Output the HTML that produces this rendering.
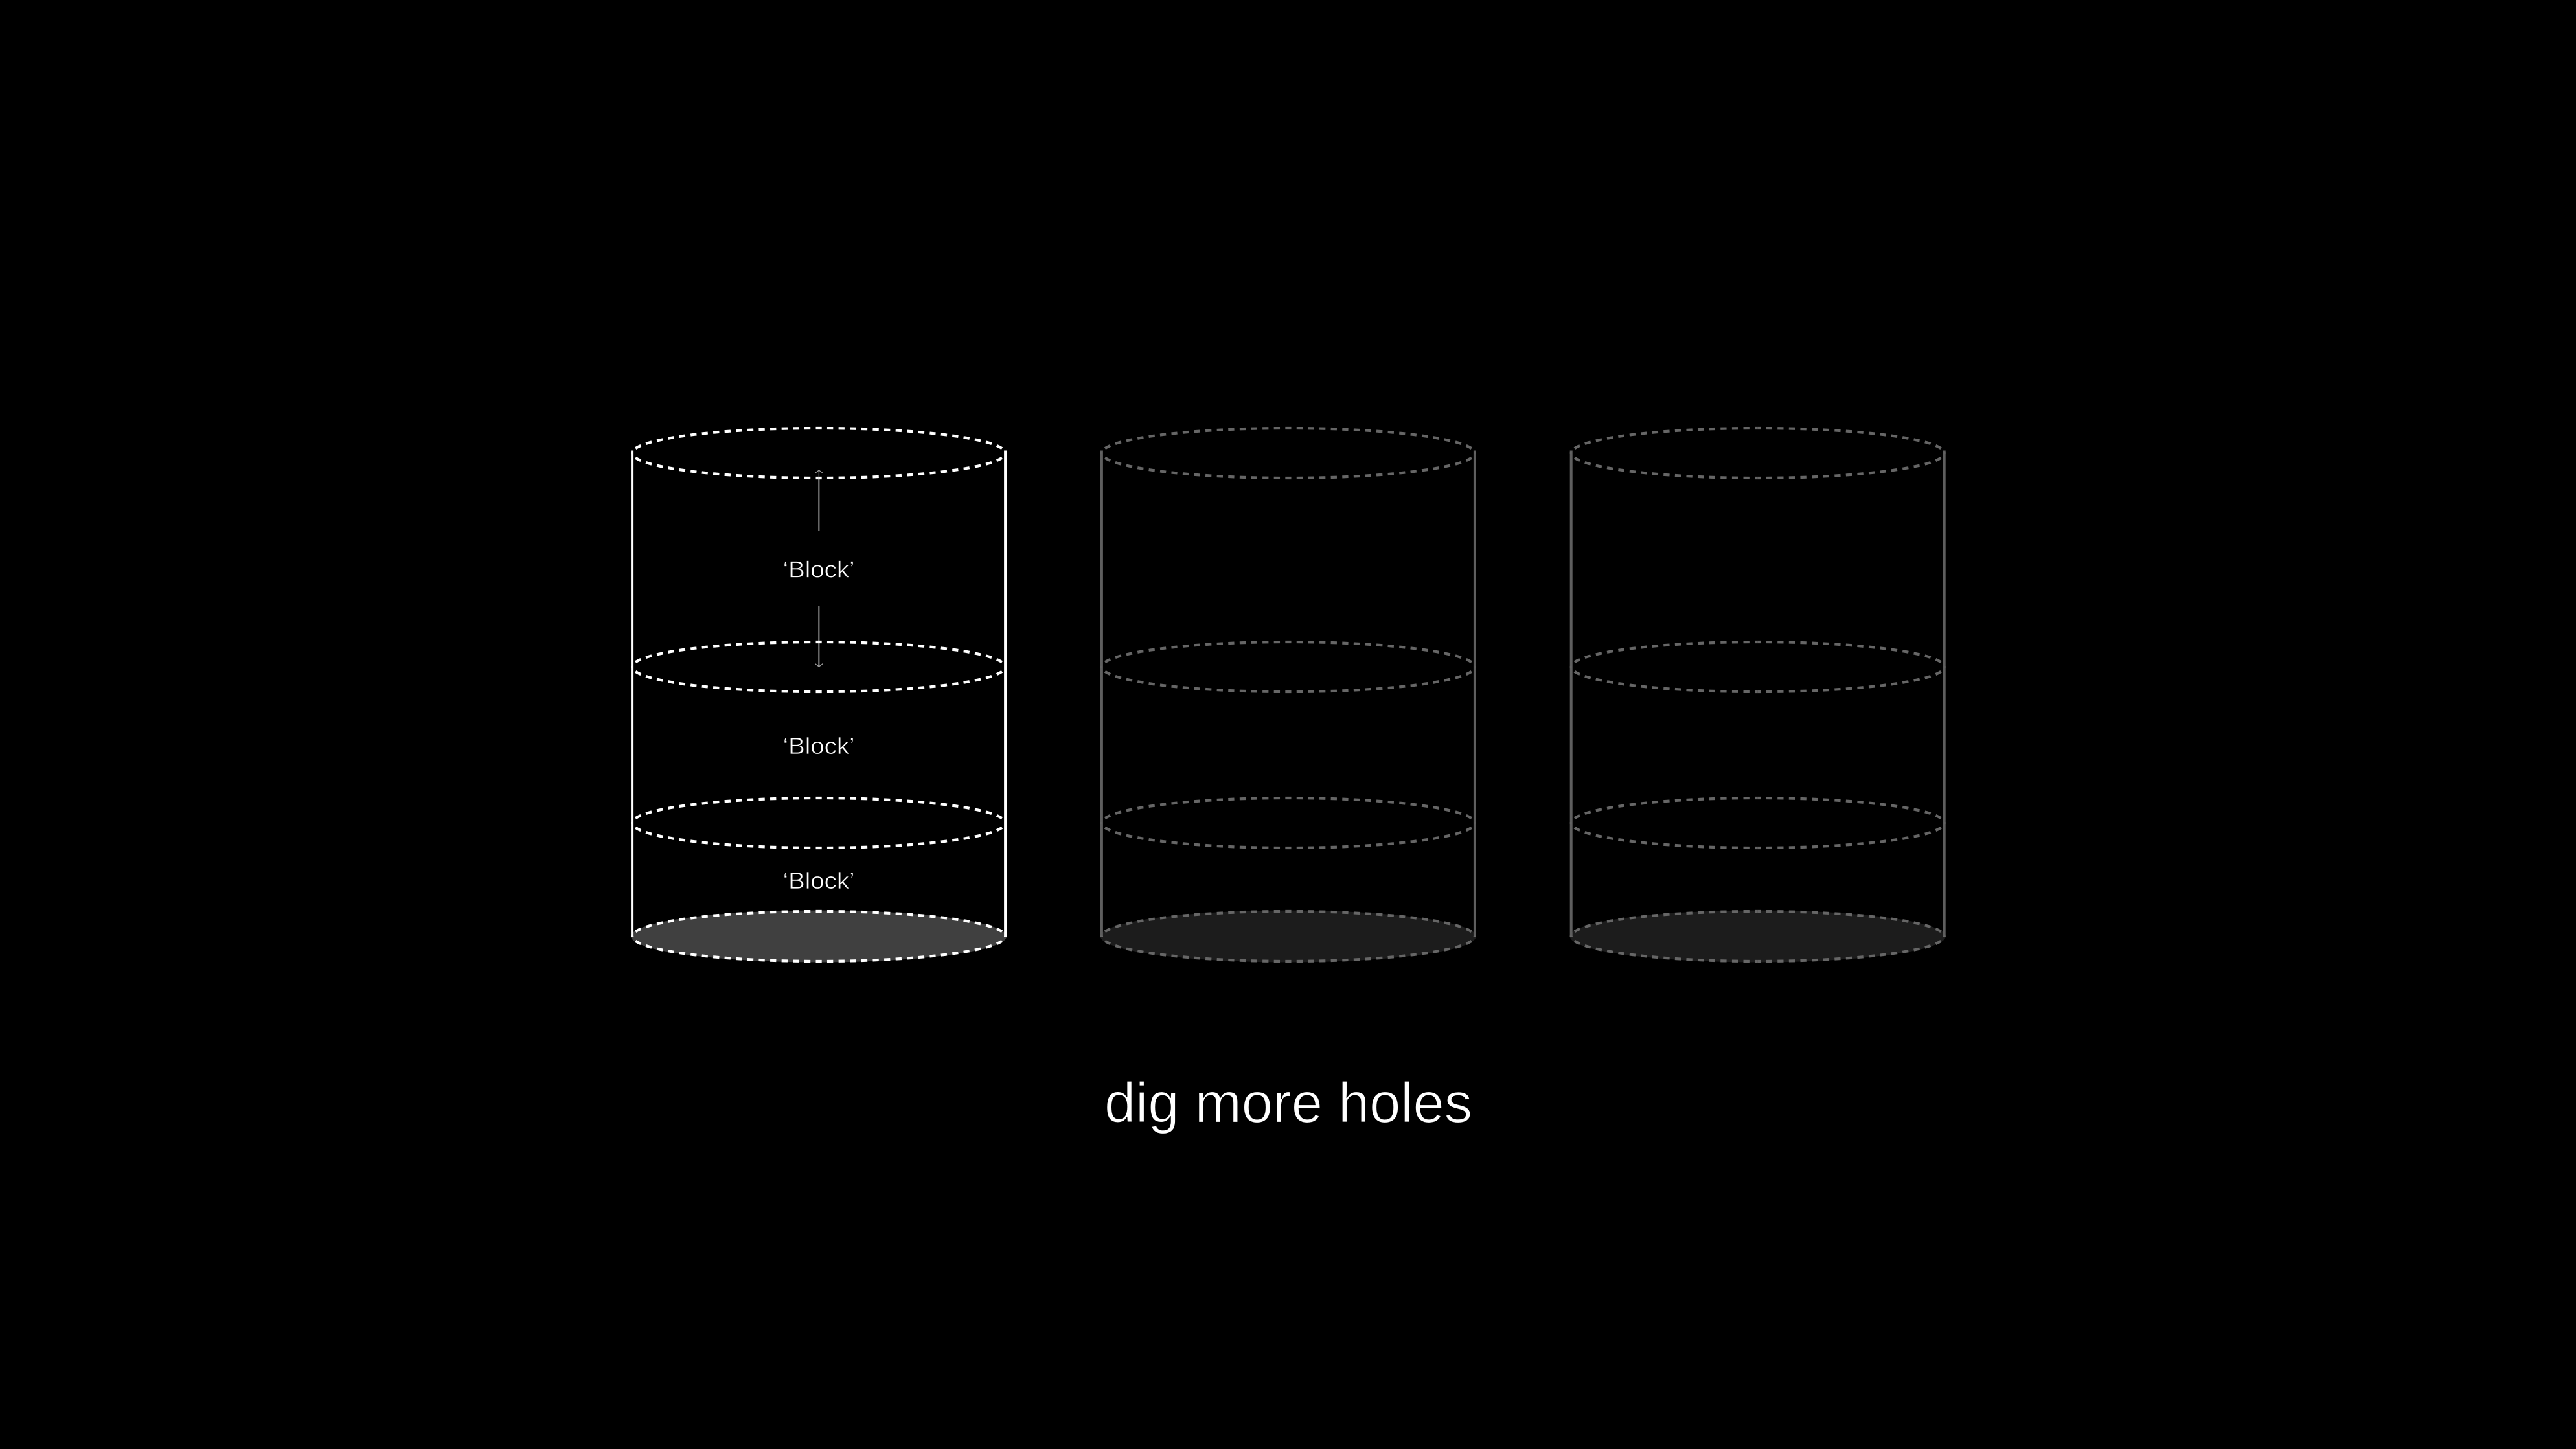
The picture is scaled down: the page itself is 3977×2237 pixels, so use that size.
<!DOCTYPE html>
<html lang="en">
<head>
<meta charset="utf-8">
<title>dig more holes</title>
<style>
  html, body { margin: 0; padding: 0; background: #000; }
  body { width: 3977px; height: 2237px; overflow: hidden; }
  svg { display: block; }
  text { font-family: "Liberation Sans", sans-serif; }
</style>
</head>
<body>
<svg id="diagram" width="3977" height="2237" viewBox="0 0 3977 2237" xmlns="http://www.w3.org/2000/svg">
  <rect x="0" y="0" width="3977" height="2237" fill="#000000"/>
  <text x="1989" y="1732.5" text-anchor="middle" font-size="87" fill="#ffffff" stroke="#000000" stroke-width="1.3" textLength="568" lengthAdjust="spacingAndGlyphs">dig more holes</text>
</svg>
<script>
// Data
const cylinders = ['active', 'dim', 'dim'];
const blockHeights = [330, 241, 175];
const blockLabels = ['\u2018Block\u2019', '\u2018Block\u2019', '\u2018Block\u2019'];

// Axis functions
const NS = 'http://www.w3.org/2000/svg';
const svg = document.getElementById('diagram');
const TOP = 699.5, RX = 288, RY = 38.5;
const xCenter = function (i) { return 1264.1 + i * 724.8; };
const yLevel = function (n) {
  let y = TOP;
  for (let k = 0; k < n; k++) y += blockHeights[k];
  return y;
};
function make(tag, attrs, parent) {
  const el = document.createElementNS(NS, tag);
  for (const k in attrs) el.setAttribute(k, attrs[k]);
  parent.appendChild(el);
  return el;
}
function quarter(g, cx, cy, color, sx, sy) {
  const sweep = sx * sy < 0 ? 1 : 0;
  const p = make('path', {
    d: 'M' + cx + ' ' + (cy + sy * RY) + ' A' + RX + ' ' + RY + ' 0 0 ' + sweep + ' ' + (cx + sx * RX) + ' ' + cy,
    fill: 'none', stroke: color, 'stroke-width': 4.2,
    'stroke-dasharray': '9.3 8.3', 'stroke-dashoffset': 4.65
  }, g);
  
  
}

cylinders.forEach(function (state, i) {
  const active = state === 'active';
  const color = active ? '#ffffff' : '#666666';
  const wallColor = active ? '#ffffff' : '#5e5e5e';
  const floorColor = active ? '#404040' : '#1c1c1c';
  const cx = xCenter(i);
  const bottom = yLevel(blockHeights.length);

  const g = make('g', {}, svg);
  
  

  const floor = make('ellipse', { cx: cx, cy: bottom, rx: RX + 2, ry: RY + 1.5, fill: floorColor }, g);
  
  

  [-1, 1].forEach(function (side) {
    const wall = make('line', { x1: cx + side * RX, x2: cx + side * RX, y1: TOP - 4, y2: bottom + 1, stroke: wallColor, 'stroke-width': 4 }, g);
    
    
  });

  for (let n = 0; n <= blockHeights.length; n++) {
    const cy = yLevel(n);
    [[1, -1], [-1, -1], [1, 1], [-1, 1]].forEach(function (q) {
      quarter(g, cx, cy, color, q[0], q[1]);
    });
  }

  if (active) {
    blockLabels.forEach(function (label, b) {
      const mid = (yLevel(b) + yLevel(b + 1)) / 2;
      const textY = mid + (b === 0 ? 27 : 14);
      const t = make('text', {
        x: cx, y: textY, 'text-anchor': 'middle', 'font-size': 36, fill: '#ffffff',
        stroke: '#000000', 'stroke-width': 0.7, textLength: 111, lengthAdjust: 'spacingAndGlyphs'
      }, g);
      t.textContent = label;
      
      
    });

    const topY = yLevel(0), nextY = yLevel(1);
    const upper = make('line', { x1: cx + 0.3, x2: cx + 0.3, y1: topY + 120, y2: topY + 40, stroke: '#ffffff', 'stroke-width': 1.6 }, g);
    
    
    const upperHead = make('path', { d: 'M' + (cx - 5.7) + ' ' + (topY + 31) + ' L' + (cx + 0.3) + ' ' + (topY + 26.5) + ' L' + (cx + 6.3) + ' ' + (topY + 31) + ' M' + (cx + 0.3) + ' ' + (topY + 26.5) + ' V' + (topY + 40), fill: 'none', stroke: '#9a9a9a', 'stroke-width': 1.3 }, g);
    
    
    const lower = make('line', { x1: cx + 0.3, x2: cx + 0.3, y1: nextY - 93.5, y2: nextY - 1, stroke: '#ffffff', 'stroke-width': 1.6 }, g);
    
    
    const lowerHead = make('path', { d: 'M' + (cx - 5.7) + ' ' + (nextY - 5) + ' L' + (cx + 0.3) + ' ' + (nextY - 0.5) + ' L' + (cx + 6.3) + ' ' + (nextY - 5), fill: 'none', stroke: '#9a9a9a', 'stroke-width': 1.3 }, g);
    
    
  }
});
</script>
</body>
</html>
